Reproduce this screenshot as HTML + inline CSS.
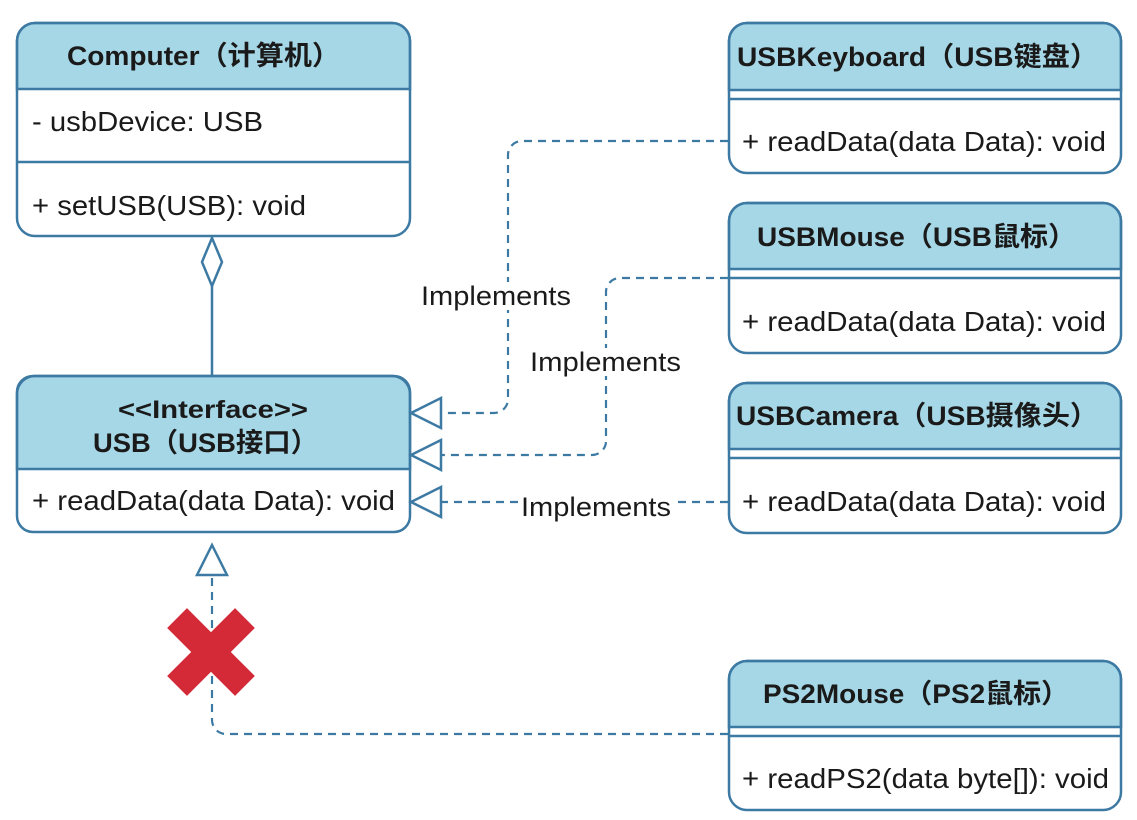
<!DOCTYPE html>
<html><head><meta charset="utf-8"><style>
html,body{margin:0;padding:0;background:#fff;width:1137px;height:820px;overflow:hidden}
text{font-family:"Liberation Sans","Noto Sans CJK SC",sans-serif;fill:#1a1a1a}
.b{font-weight:bold}
</style></head><body>
<svg width="1137" height="820" viewBox="0 0 1137 820" xmlns="http://www.w3.org/2000/svg">
<g stroke="#3d7aa3" stroke-width="2.5" fill="none">
<path d="M17,89 V41 a18,18 0 0 1 18,-18 H392 a18,18 0 0 1 18,18 V89 Z" fill="#a6d7e7"/>
<rect x="17" y="23" width="393" height="213" rx="18"/>
<line x1="17" y1="162" x2="410" y2="162"/>
<path d="M17,469 V394 a18,18 0 0 1 18,-18 H392 a18,18 0 0 1 18,18 V469 Z" fill="#a6d7e7"/>
<rect x="17" y="376" width="393" height="156" rx="16"/>
<path d="M729,90 V41 a18,18 0 0 1 18,-18 H1103 a18,18 0 0 1 18,18 V90 Z" fill="#a6d7e7"/>
<rect x="729" y="23" width="392" height="150" rx="18"/>
<line x1="729" y1="99" x2="1121" y2="99"/>
<path d="M729,269 V221 a18,18 0 0 1 18,-18 H1103 a18,18 0 0 1 18,18 V269 Z" fill="#a6d7e7"/>
<rect x="729" y="203" width="392" height="150" rx="18"/>
<line x1="729" y1="278" x2="1121" y2="278"/>
<path d="M729,449 V401 a18,18 0 0 1 18,-18 H1103 a18,18 0 0 1 18,18 V449 Z" fill="#a6d7e7"/>
<rect x="729" y="383" width="392" height="150" rx="18"/>
<line x1="729" y1="458" x2="1121" y2="458"/>
<path d="M729,727 V679 a18,18 0 0 1 18,-18 H1103 a18,18 0 0 1 18,18 V727 Z" fill="#a6d7e7"/>
<rect x="729" y="661" width="392" height="149" rx="18"/>
<line x1="729" y1="736" x2="1121" y2="736"/>
</g>
<g stroke="#3d7aa3" stroke-width="2.2" fill="none" stroke-dasharray="8,6">
<path d="M728,141 H522 a14,14 0 0 0 -14,14 V399 a14,14 0 0 1 -14,14 H440"/>
<path d="M728,278 H620 a14,14 0 0 0 -14,14 V441 a14,14 0 0 1 -14,14 H440"/>
<path d="M728,502 H440"/>
<path d="M728,734 H226 a14,14 0 0 1 -14,-14 V575"/>
</g>
<g stroke="#3d7aa3" stroke-width="2.5" fill="#fff">
<polygon points="411,413 441,398 441,428"/>
<polygon points="411,455 441,440 441,470"/>
<polygon points="411,502 441,487 441,517"/>
<polygon points="212,545 197,575 227,575"/>
<line x1="212" y1="286" x2="212" y2="376"/>
<polygon points="212,238 222,262 212,286 202,262"/>
</g>
<rect x="418" y="282" width="156" height="28" fill="#fff"/>
<rect x="528" y="348" width="156" height="28" fill="#fff"/>
<rect x="519" y="492" width="154" height="28" fill="#fff"/>
<g font-size="27">
<text x="421" y="305" textLength="150" lengthAdjust="spacingAndGlyphs">Implements</text>
<text x="530" y="371" textLength="151" lengthAdjust="spacingAndGlyphs">Implements</text>
<text x="521" y="516" textLength="150" lengthAdjust="spacingAndGlyphs">Implements</text>
</g>
<g transform="translate(211,652) rotate(45)">
<rect x="-14" y="-48" width="28" height="96" fill="#d42a38"/>
<rect x="-48" y="-14" width="96" height="28" fill="#d42a38"/>
</g>
<g font-size="28">
<text class="b" x="67" y="65" font-size="27" textLength="273" lengthAdjust="spacingAndGlyphs">Computer（计算机）</text>
<text x="32" y="131" textLength="231" lengthAdjust="spacingAndGlyphs">- usbDevice: USB</text>
<text x="32" y="215" textLength="274" lengthAdjust="spacingAndGlyphs">+ setUSB(USB): void</text>
<text class="b" x="118" y="418" font-size="25" textLength="190" lengthAdjust="spacingAndGlyphs">&lt;&lt;Interface&gt;&gt;</text>
<text class="b" x="93" y="452" font-size="27" textLength="225" lengthAdjust="spacingAndGlyphs">USB（USB接口）</text>
<text x="32" y="510" textLength="363" lengthAdjust="spacingAndGlyphs">+ readData(data Data): void</text>
<text class="b" x="737" y="66" font-size="27" textLength="361" lengthAdjust="spacingAndGlyphs">USBKeyboard（USB键盘）</text>
<text x="742" y="151" textLength="364" lengthAdjust="spacingAndGlyphs">+ readData(data Data): void</text>
<text class="b" x="757" y="246" font-size="27" textLength="319" lengthAdjust="spacingAndGlyphs">USBMouse（USB鼠标）</text>
<text x="742" y="331" textLength="364" lengthAdjust="spacingAndGlyphs">+ readData(data Data): void</text>
<text class="b" x="736" y="425" font-size="27" textLength="362" lengthAdjust="spacingAndGlyphs">USBCamera（USB摄像头）</text>
<text x="742" y="511" textLength="364" lengthAdjust="spacingAndGlyphs">+ readData(data Data): void</text>
<text class="b" x="763" y="703" font-size="27" textLength="306" lengthAdjust="spacingAndGlyphs">PS2Mouse（PS2鼠标）</text>
<text x="742" y="788" textLength="367" lengthAdjust="spacingAndGlyphs">+ readPS2(data byte[]): void</text>
</g>
</svg>
</body></html>
